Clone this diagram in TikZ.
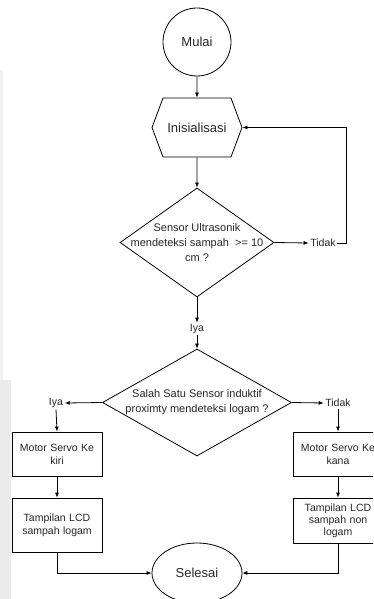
\documentclass[tikz,border=0pt]{standalone}
\usepackage{fontspec}
\setmainfont{Liberation Sans}
\usetikzlibrary{shapes.geometric,shapes.symbols,arrows.meta}
\tikzset{
  flowline/.style={line width=0.8pt, -{Latex[length=5pt,width=4pt]}},
  termbox/.style={draw, line width=0.8pt, text=black!85, font=\fontsize{13}{15}\selectfont},
  procbox/.style={draw, line width=0.8pt, text=black!85, minimum width=90pt, inner sep=1pt,
    text width=86pt, align=center, font=\fontsize{10.5}{13}\selectfont},
  decbox/.style={draw, diamond, line width=0.8pt, inner sep=0pt},
  declabel/.style={text=black!85, align=center, font=\fontsize{11}{15}\selectfont},
  branch/.style={text=black!85, inner sep=1.5pt, font=\fontsize{10.5}{13}\selectfont}
}
\begin{document}
\begin{tikzpicture}[x=1pt, y=-1pt]
\clip (0,0) rectangle (373,599);
\useasboundingbox (0,0) rectangle (373,599);
\fill[white] (0,0) rectangle (373,599);
\fill[black!5] (0,70) rectangle (3,380);
\fill[black!8] (0,380) rectangle (11,599);
% terminals and initialisation
\node[termbox, circle, minimum size=68pt, inner sep=0pt] (mulai) at (197,42) {Mulai};
\node[termbox, signal, signal to=west and east, signal pointer angle=139,
  minimum width=90pt, minimum height=59pt, inner sep=0pt] (init) at (197,127.5) {Inisialisasi};
\node[termbox, ellipse, minimum width=90pt, minimum height=60pt, inner sep=0pt] (selesai) at (197,573) {Selesai};
% decisions
\node[decbox, minimum width=154pt, minimum height=109pt,
  label={[declabel]center:Sensor Ultrasonik\\mendeteksi sampah \ >= 10\\cm ?}] (ultra) at (197,242.5) {};
\node[decbox, minimum width=189pt, minimum height=107pt,
  label={[declabel]center:Salah Satu Sensor induktif\\proximty mendeteksi logam ?}] (induk) at (197,402.5) {};
% branch labels
\node[branch] (tidakA) at (323,243) {Tidak};
\node[branch] (iyaA) at (197,329) {Iya};
\node[branch] (iyaB) at (56,403) {Iya};
\node[branch] (tidakB) at (338,403) {Tidak};
\coordinate (loop) at (346,127.5);
% process boxes
\node[procbox, minimum height=44pt] (kiri) at (57,454) {Motor Servo Ke\\kiri};
\node[procbox, minimum height=54pt] (lcdL) at (57,525) {Tampilan LCD\\sampah logam};
\node[procbox, minimum height=44pt] (kanan) at (338,454) {Motor Servo Ke\\kana};
\node[procbox, minimum height=45pt, font=\fontsize{10.5}{12}\selectfont] (lcdR) at (338,520.5) {Tampilan LCD\\sampah non\\logam};
% connectors
\draw[flowline] (mulai) -- (init);
\draw[flowline] (init) -- (ultra.north);
\draw[flowline] (ultra.east) -- (tidakA.west);
\draw[flowline] (tidakA.east) -| (loop) -- (init.east);
\draw[flowline] (ultra.south) -- (iyaA.north);
\draw[flowline] (iyaA.south) -- (induk.north);
\draw[flowline] (induk.west) -- (iyaB.east);
\draw[flowline] (induk.east) -- (tidakB.west);
\draw[flowline] (iyaB.south) -- (kiri.north);
\draw[flowline] (tidakB.south) -- (kanan.north);
\draw[flowline] (kiri) -- (lcdL);
\draw[flowline] (kanan) -- (lcdR);
\draw[flowline] (lcdL.south) |- (selesai.west);
\draw[flowline] (lcdR.south) |- (selesai.east);
\end{tikzpicture}
\end{document}
